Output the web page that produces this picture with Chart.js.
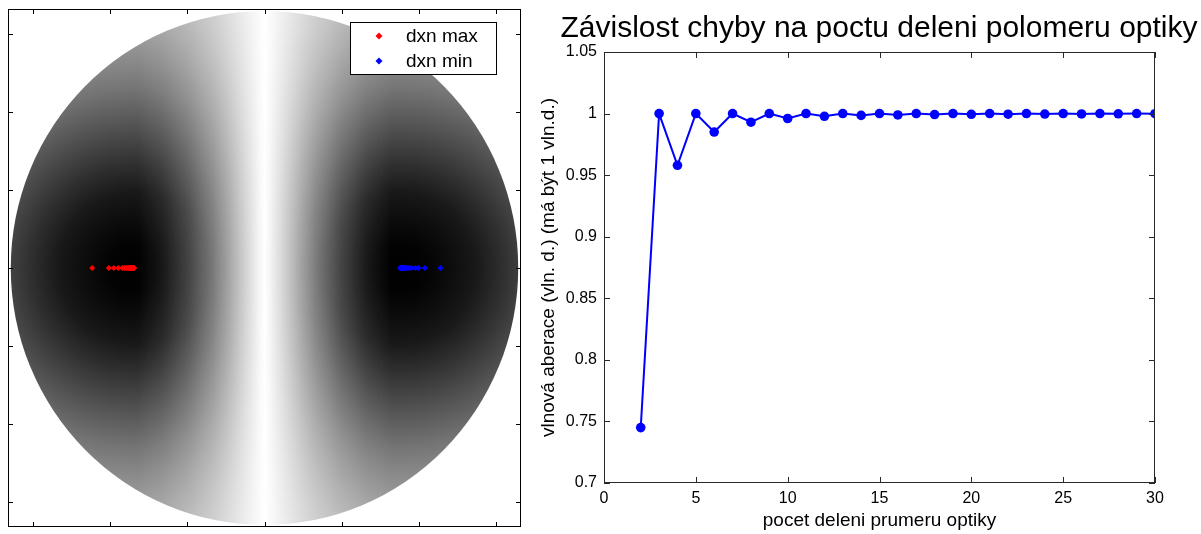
<!DOCTYPE html>
<html><head><meta charset="utf-8">
<script src="https://cdn.jsdelivr.net/npm/chart.js@4/dist/chart.umd.min.js"></script>
<style>
html,body{margin:0;padding:0;background:#fff;width:1201px;height:534px;overflow:hidden;position:relative}
#left{position:absolute;left:0;top:0;width:530px;height:534px}
#right{position:absolute;left:530px;top:0;width:698px;height:534px}
canvas{display:block}
</style></head><body>
<div id="left"><canvas id="c1" width="530" height="534"></canvas></div>
<div id="right"><canvas id="c2" width="698" height="534"></canvas></div>
<script>
// ---------- data ----------
const seriesLabels = ['dxn max', 'dxn min'];
const dxnMaxX = [-2.238, -2.022, -1.957, -1.900, -1.848, -1.818, -1.799, -1.782, -1.769, -1.758,
                 -1.749, -1.742, -1.735, -1.730, -1.725, -1.721, -1.717, -1.714, -1.712, -1.709,
                 -1.707, -1.705, -1.704, -1.703, -1.701, -1.700, -1.699, -1.697, -1.696];
const dxnMaxY = [0, 0, 0, 0, 0, 0, 0, 0, 0, 0, 0, 0, 0, 0, 0, 0, 0, 0, 0, 0, 0, 0, 0, 0, 0, 0, 0, 0, 0];
const dxnMinX = [2.286, 2.082, 2.000, 1.961, 1.909, 1.883, 1.864, 1.848, 1.835, 1.825,
                 1.816, 1.808, 1.801, 1.796, 1.791, 1.787, 1.783, 1.781, 1.778, 1.775,
                 1.773, 1.771, 1.770, 1.769, 1.768, 1.766, 1.765, 1.764, 1.762];
const dxnMinY = [0, 0, 0, 0, 0, 0, 0, 0, 0, 0, 0, 0, 0, 0, 0, 0, 0, 0, 0, 0, 0, 0, 0, 0, 0, 0, 0, 0, 0];
const mapTicks = [-3, -2, -1, 0, 1, 2, 3];
const diskRadius = 3.295;

const chartTitle = 'Závislost chyby na poctu deleni polomeru optiky';
const xTitle = 'pocet deleni prumeru optiky';
const yTitle = 'vlnová aberace (vln. d.) (má být 1 vln.d.)';
const divisions = [2, 3, 4, 5, 6, 7, 8, 9, 10, 11, 12, 13, 14, 15, 16, 17, 18, 19, 20, 21, 22, 23, 24, 25, 26, 27, 28, 29, 30];
const aberration = [0.745, 1.000, 0.958, 1.000, 0.985, 1.000, 0.993, 1.000, 0.996, 1.000,
                    0.9978, 1.000, 0.9985, 1.000, 0.9989, 1.000, 0.9992, 1.000, 0.9994, 1.000,
                    0.9995, 1.000, 0.9996, 1.000, 0.9997, 1.000, 0.9998, 1.000, 0.9999];
const xTickValues = [0, 5, 10, 15, 20, 25, 30];
const yTickValues = [0.7, 0.75, 0.8, 0.85, 0.9, 0.95, 1, 1.05];

const FONT = "'Liberation Sans', Arial, Helvetica, sans-serif";
Chart.defaults.font.family = FONT;
Chart.defaults.color = '#000';

// ---------- left panel plugins ----------
const mapBackground = {
  id: 'mapBackground',
  beforeDatasetsDraw(chart) {
    const {ctx, scales: {x, y}} = chart;
    const cx = x.getPixelForValue(0), cy = y.getPixelForValue(0);
    const rx = Math.abs(x.getPixelForValue(diskRadius) - cx);
    const ry = Math.abs(y.getPixelForValue(diskRadius) - cy);
    const R = rx;
    const W = chart.width, H = chart.height;
    const off = document.createElement('canvas');
    off.width = W; off.height = H;
    const o = off.getContext('2d');
    const centers = [dxnMaxX[dxnMaxX.length - 1], dxnMinX[dxnMinX.length - 1]];
    const stops = [[0,1],[0.1,0.99],[0.2,0.95],[0.3,0.9],[0.4,0.82],[0.5,0.73],[0.6,0.64],[0.7,0.55],[0.8,0.47],[0.9,0.4],[1.0,0.34],[1.2,0.25]];
    centers.forEach((c, i) => {
      const bx = x.getPixelForValue(c);
      o.save();
      o.beginPath();
      if (i === 0) o.rect(0, 0, cx, H); else o.rect(cx, 0, W - cx, H);
      o.clip();
      const g = o.createRadialGradient(bx, cy, 0, bx, cy, 1.2 * R);
      stops.forEach(([t, a]) => g.addColorStop(t / 1.2, 'rgba(0,0,0,' + a + ')'));
      o.fillStyle = g;
      o.fillRect(0, 0, W, H);
      o.restore();
    });
    o.globalCompositeOperation = 'destination-in';
    const lg = o.createLinearGradient(cx - R, 0, cx + R, 0);
    const hs = [[0,0],[0.02,0.05],[0.05,0.15],[0.1,0.3],[0.15,0.45],[0.2,0.58],[0.3,0.78],[0.4,0.92],[0.5,1]];
    hs.slice().reverse().forEach(([t, a]) => lg.addColorStop(0.5 - t / 2, 'rgba(0,0,0,' + a + ')'));
    hs.forEach(([t, a]) => { if (t > 0) lg.addColorStop(0.5 + t / 2, 'rgba(0,0,0,' + a + ')'); });
    lg.addColorStop(0, 'rgba(0,0,0,1)');
    lg.addColorStop(1, 'rgba(0,0,0,1)');
    o.fillStyle = lg;
    o.fillRect(0, 0, W, H);
    ctx.save();
    ctx.beginPath();
    ctx.ellipse(cx, cy, rx, ry, 0, 0, Math.PI * 2);
    ctx.clip();
    ctx.fillStyle = '#fff';
    ctx.fill();
    ctx.drawImage(off, 0, 0);
    ctx.restore();
  }
};

const frameLeft = {
  id: 'frameLeft',
  afterDraw(chart) {
    const {ctx, chartArea: a, scales: {x, y}} = chart;
    ctx.save();
    ctx.strokeStyle = '#000';
    ctx.lineWidth = 1;
    ctx.strokeRect(a.left + 0.5, a.top + 0.5, a.right - a.left - 1, a.bottom - a.top - 1);
    ctx.beginPath();
    mapTicks.forEach(v => {
      const px = Math.round(x.getPixelForValue(v)) + 0.5;
      ctx.moveTo(px, a.top); ctx.lineTo(px, a.top + 5);
      ctx.moveTo(px, a.bottom); ctx.lineTo(px, a.bottom - 5);
      const py = Math.round(y.getPixelForValue(v)) + 0.5;
      ctx.moveTo(a.left, py); ctx.lineTo(a.left + 5, py);
      ctx.moveTo(a.right, py); ctx.lineTo(a.right - 5, py);
    });
    ctx.stroke();
    // legend
    const lx = a.right - 171, ly = a.top + 13, lw = 146, lh = 52;
    ctx.fillStyle = '#fff';
    ctx.fillRect(lx, ly, lw, lh);
    ctx.strokeStyle = '#000';
    ctx.strokeRect(lx + 0.5, ly + 0.5, lw, lh);
    ctx.font = '19px ' + FONT;
    ctx.textBaseline = 'middle';
    ctx.textAlign = 'left';
    chart.data.datasets.forEach((ds, i) => {
      const my = ly + 14 + i * 25;
      ctx.fillStyle = ds.backgroundColor;
      ctx.beginPath();
      ctx.moveTo(lx + 29, my - 3.5); ctx.lineTo(lx + 32.5, my); ctx.lineTo(lx + 29, my + 3.5); ctx.lineTo(lx + 25.5, my);
      ctx.closePath(); ctx.fill();
      ctx.fillStyle = '#000';
      ctx.fillText(ds.label, lx + 56, my + 1);
    });
    ctx.restore();
  }
};

new Chart(document.getElementById('c1'), {
  type: 'scatter',
  data: {
    datasets: [
      {label: seriesLabels[0], data: dxnMaxX.map((v, i) => ({x: v, y: dxnMaxY[i]})),
       backgroundColor: '#ff0000', borderColor: '#ff0000', pointStyle: 'rectRot', pointRadius: 3, borderWidth: 0},
      {label: seriesLabels[1], data: dxnMinX.map((v, i) => ({x: v, y: dxnMinY[i]})),
       backgroundColor: '#0000ff', borderColor: '#0000ff', pointStyle: 'rectRot', pointRadius: 3, borderWidth: 0}
    ]
  },
  options: {
    responsive: false, animation: false, events: [],
    layout: {padding: {left: 8, top: 9, right: 9, bottom: 7}},
    plugins: {legend: {display: false}, tooltip: {enabled: false}},
    scales: {
      x: {type: 'linear', min: -3.331, max: 3.331, display: false},
      y: {type: 'linear', min: -3.32, max: 3.32, display: false}
    }
  },
  plugins: [mapBackground, frameLeft]
});

// ---------- right panel ----------
const frameRight = {
  id: 'frameRight',
  afterDraw(chart) {
    const {ctx, chartArea: a, scales: {x, y}} = chart;
    ctx.save();
    ctx.strokeStyle = '#2a2a2a';
    ctx.lineWidth = 1;
    ctx.strokeRect(a.left + 0.5, a.top + 0.5, a.right - a.left - 1, a.bottom - a.top - 1);
    ctx.beginPath();
    xTickValues.forEach(v => {
      const px = Math.round(x.getPixelForValue(v)) + 0.5;
      ctx.moveTo(px, a.top); ctx.lineTo(px, a.top + 6);
      ctx.moveTo(px, a.bottom); ctx.lineTo(px, a.bottom - 6);
    });
    yTickValues.forEach(v => {
      const py = Math.round(y.getPixelForValue(v)) + 0.5;
      ctx.moveTo(a.left, py); ctx.lineTo(a.left + 6, py);
      ctx.moveTo(a.right, py); ctx.lineTo(a.right - 6, py);
    });
    ctx.stroke();
    ctx.restore();
  }
};

new Chart(document.getElementById('c2'), {
  type: 'line',
  data: {
    datasets: [{
      data: divisions.map((n, i) => ({x: n, y: aberration[i]})),
      borderColor: '#0000ff', backgroundColor: '#0000ff', borderWidth: 2,
      pointRadius: 4.8, pointBorderWidth: 0, pointBackgroundColor: '#0000ff', tension: 0
    }]
  },
  options: {
    responsive: false, animation: false, events: [],
    layout: {padding: {left: 0, right: 0, top: 0, bottom: 0}},
    plugins: {
      legend: {display: false}, tooltip: {enabled: false},
      title: {display: true, text: chartTitle, color: '#000',
              font: {family: FONT, size: 30, weight: 'normal'}, padding: {top: 11, bottom: 5}}
    },
    scales: {
      x: {
        type: 'linear', min: 0, max: 30,
        afterBuildTicks: s => { s.ticks = xTickValues.map(v => ({value: v})); },
        ticks: {font: {size: 16}, color: '#000', padding: 6, maxRotation: 0},
        grid: {display: false, drawTicks: false}, border: {display: false},
        title: {display: true, text: xTitle, color: '#000', font: {size: 19}, padding: {top: 0, bottom: 2}},
        afterFit: s => { s.height = 51; }
      },
      y: {
        type: 'linear', min: 0.7, max: 1.05,
        afterBuildTicks: s => { s.ticks = yTickValues.map(v => ({value: v})); },
        ticks: {font: {size: 16}, color: '#000', padding: 7, callback: v => String(+(+v).toFixed(2))},
        grid: {display: false, drawTicks: false}, border: {display: false},
        title: {display: true, text: yTitle, color: '#000', font: {size: 19}, padding: {top: 7, bottom: 0}},
        afterFit: s => { s.width = 74; }
      },
      yRight: {
        type: 'linear', position: 'right', min: 0.7, max: 1.05, display: true,
        ticks: {display: false}, grid: {display: false, drawTicks: false}, border: {display: false},
        afterFit: s => { s.width = 73; }
      }
    }
  },
  plugins: [frameRight]
});
</script>
</body></html>
